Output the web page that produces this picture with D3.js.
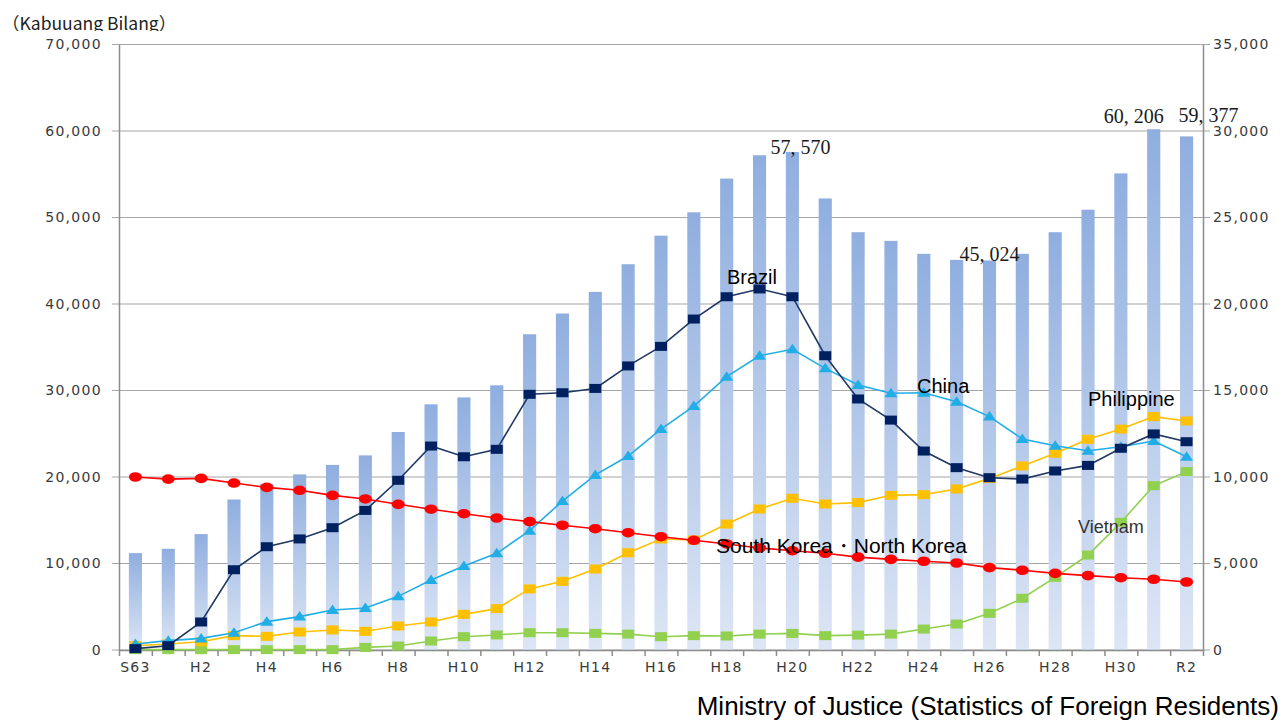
<!DOCTYPE html>
<html>
<head>
<meta charset="utf-8">
<script src="https://cdn.jsdelivr.net/npm/d3@7"></script>
<style>
	body { margin: 0; background: #ffffff; }
	svg { display: block; }
</style>
</head>
<body>
<div id="chart"></div>
<script>
/**
 * Foreign residents chart: total (bars, left axis) and nationalities (lines, right axis).
 */

// Categories (Japanese era years)
const years = [
	"S63", "H1", "H2", "H3", "H4", "H5", "H6", "H7", "H8", "H9", "H10",
	"H11", "H12", "H13", "H14", "H15", "H16", "H17", "H18", "H19", "H20",
	"H21", "H22", "H23", "H24", "H25", "H26", "H27", "H28", "H29", "H30",
	"H31", "R2"
];
const yearLabels = ["S63", "H2", "H4", "H6", "H8", "H10", "H12", "H14", "H16", "H18",
	"H20", "H22", "H24", "H26", "H28", "H30", "R2"];

// Total (left axis)
const totals = [
	11200, 11700, 13400, 17400, 19200, 20300, 21400, 22500, 25200, 28400, 29200,
	30600, 36500, 38900, 41400, 44600, 47900, 50600, 54500, 57200, 57570,
	52200, 48300, 47300, 45800, 45100, 45024, 45800, 48300, 50900, 55100,
	60206, 59377
];

// Nationalities (right axis)
const brazil = [
	80, 250, 1620, 4640, 5970, 6420, 7070, 8070, 9810, 11790, 11170,
	11600, 14780, 14870, 15120, 16420, 17550, 19130, 20420, 20870, 20420,
	17010, 14510, 13290, 11500, 10540, 9960, 9880, 10350, 10670, 11660,
	12490, 12040
];
const china = [
	350, 540, 670, 1000, 1640, 1930, 2310, 2430, 3100, 4050, 4860,
	5590, 6900, 8610, 10120, 11210, 12770, 14100, 15800, 17010, 17380,
	16280, 15320, 14840, 14870, 14350, 13490, 12200, 11810, 11520, 11750,
	12080, 11170
];
const philippine = [
	250, 350, 480, 830, 790, 1040, 1160, 1080, 1390, 1620, 2060,
	2390, 3530, 3970, 4680, 5620, 6420, 6360, 7280, 8150, 8770,
	8440, 8520, 8940, 8980, 9310, 9920, 10640, 11370, 12180, 12770,
	13490, 13240
];
const vietnam = [
	20, 20, 20, 20, 20, 20, 20, 150, 230, 520, 770,
	870, 1000, 1000, 960, 920, 770, 830, 810, 920, 960,
	830, 860, 920, 1210, 1500, 2120, 2990, 4200, 5490, 7380,
	9500, 10310
];
const korea = [
	10000, 9880, 9920, 9650, 9400, 9230, 8940, 8730, 8420, 8140, 7880,
	7630, 7420, 7210, 7010, 6780, 6550, 6340, 6130, 5900, 5740,
	5590, 5370, 5240, 5130, 5030, 4760, 4610, 4430, 4300, 4180,
	4090, 3930
];

const leftTicks = [0, 10000, 20000, 30000, 40000, 50000, 60000, 70000];
const rightTicks = [0, 5000, 10000, 15000, 20000, 25000, 30000, 35000];

(function (d3) {
	"use strict";

	const width = 1283, height = 722;
	const plot = { left: 119, right: 1203, top: 44.5, bottom: 650 };

	const svg = d3.select("#chart").append("svg")
		.attr("width", width)
		.attr("height", height)
		.style("font-family", "'Liberation Sans', Arial, sans-serif");

	// Scales
	const xScale = d3.scaleBand()
		.domain(years)
		.range([plot.left, plot.right])
		.paddingInner(0.6)
		.paddingOuter(0.3);
	const cx = d => xScale(d) + xScale.bandwidth() / 2;

	const yLeft = d3.scaleLinear().domain([0, 70000]).range([plot.bottom, plot.top]);
	const yRight = d3.scaleLinear().domain([0, 35000]).range([plot.bottom, plot.top]);

	// Bar gradient
	const defs = svg.append("defs");
	const grad = defs.append("linearGradient")
		.attr("id", "barGrad")
		.attr("x1", 0).attr("y1", 0).attr("x2", 0).attr("y2", 1);
	grad.append("stop").attr("offset", "0%").attr("stop-color", "#8faedf");
	grad.append("stop").attr("offset", "100%").attr("stop-color", "#dde6f5");

	defs.append("clipPath").attr("id", "titleClip")
		.append("rect").attr("x", 0).attr("y", 0).attr("width", 300).attr("height", 31);

	// Gridlines (behind bars)
	svg.append("g")
		.attr("class", "grid")
		.selectAll("line")
		.data(leftTicks)
		.enter()
		.append("line")
		.attr("x1", plot.left - 7)
		.attr("x2", plot.right + 7)
		.attr("y1", d => yLeft(d))
		.attr("y2", d => yLeft(d))
		.attr("stroke", "#a6a6a6")
		.attr("stroke-width", 1.2);

	// Bars
	svg.append("g")
		.attr("class", "bars")
		.selectAll("rect")
		.data(totals)
		.enter()
		.append("rect")
		.attr("x", (d, i) => xScale(years[i]))
		.attr("width", xScale.bandwidth())
		.attr("y", d => yLeft(d))
		.attr("height", d => plot.bottom - yLeft(d))
		.attr("fill", "url(#barGrad)");

	// Axes
	const tickFont = g => g.selectAll("text")
		.attr("fill", "#3a3a3a")
		.style("font-family", "'DejaVu Sans', Verdana, sans-serif")
		.style("font-size", "14px")
		.style("letter-spacing", "1.3px");

	const leftAxis = d3.axisLeft(yLeft)
		.tickValues(leftTicks)
		.tickFormat(d3.format(","))
		.tickSize(0)
		.tickPadding(17);
	svg.append("g")
		.attr("transform", "translate(" + plot.left + ",0)")
		.call(leftAxis)
		.call(g => g.select(".domain").attr("stroke", "#8c8c8c").attr("stroke-width", 1.5))
		.call(tickFont);

	const rightAxis = d3.axisRight(yRight)
		.tickValues(rightTicks)
		.tickFormat(d3.format(","))
		.tickSize(0)
		.tickPadding(10);
	svg.append("g")
		.attr("transform", "translate(" + plot.right + ",0)")
		.call(rightAxis)
		.call(g => g.select(".domain").attr("stroke", "#8c8c8c").attr("stroke-width", 1.5))
		.call(tickFont);

	// Bottom axis: ticks at band boundaries, labels every other year
	const boundary = d3.scaleLinear().domain([0, years.length]).range([plot.left, plot.right]);
	svg.append("g")
		.attr("transform", "translate(0," + plot.bottom + ")")
		.call(d3.axisBottom(boundary).tickValues(d3.range(years.length + 1)).tickFormat("").tickSize(6).tickSizeOuter(0))
		.call(g => g.selectAll("line, path").attr("stroke", "#8c8c8c").attr("stroke-width", 1.5));

	svg.append("g")
		.attr("transform", "translate(0," + plot.bottom + ")")
		.call(d3.axisBottom(xScale).tickValues(yearLabels).tickSize(0).tickPadding(12))
		.call(g => g.select(".domain").remove())
		.call(tickFont);

	// Lines
	const series = [
		{ name: "vietnam", values: vietnam, color: "#92d050", marker: "square" },
		{ name: "philippine", values: philippine, color: "#ffc000", marker: "square" },
		{ name: "china", values: china, color: "#21aee6", marker: "triangle" },
		{ name: "brazil", values: brazil, color: "#002060", line: "#1f3864", marker: "square" },
		{ name: "korea", values: korea, color: "#ff0000", marker: "circle" }
	];

	const line = d3.line()
		.x((d, i) => cx(years[i]))
		.y(d => yRight(d));

	series.forEach(s => {
		const g = svg.append("g").attr("class", "series " + s.name);
		g.append("path")
			.datum(s.values)
			.attr("d", line)
			.attr("fill", "none")
			.attr("stroke", s.line || s.color)
			.attr("stroke-width", 1.6);

		const pts = g.selectAll(".pt")
			.data(s.values)
			.enter();
		if (s.marker === "square") {
			pts.append("rect")
				.attr("x", (d, i) => cx(years[i]) - 6)
				.attr("y", d => yRight(d) - 4.5)
				.attr("width", 12)
				.attr("height", 9)
				.attr("fill", s.color);
		} else if (s.marker === "circle") {
			pts.append("ellipse")
				.attr("cx", (d, i) => cx(years[i]))
				.attr("cy", d => yRight(d))
				.attr("rx", 6.5)
				.attr("ry", 4.8)
				.attr("fill", s.color);
		} else {
			pts.append("path")
				.attr("d", (d, i) => {
					const x = cx(years[i]), y = yRight(d);
					return "M" + (x - 6.5) + "," + (y + 4) + "L" + (x + 6.5) + "," + (y + 4) + "L" + x + "," + (y - 5.5) + "Z";
				})
				.attr("fill", s.color);
		}
	});

	// Series labels
	const seriesLabels = [
		{ text: "Brazil", x: 727, y: 284, size: 20, color: "#000" },
		{ text: "China", x: 917, y: 393, size: 20, color: "#000" },
		{ text: "Philippine", x: 1088, y: 406, size: 20, color: "#000" },
		{ text: "Vietnam", x: 1078, y: 533, size: 18, color: "#333" },
		{ text: "South Korea・North Korea", x: 716, y: 553, size: 21, color: "#000" }
	];
	svg.append("g")
		.selectAll("text")
		.data(seriesLabels)
		.enter()
		.append("text")
		.attr("x", d => d.x)
		.attr("y", d => d.y)
		.attr("fill", d => d.color)
		.style("font-size", d => d.size + "px")
		.text(d => d.text);

	// Value labels on selected bars
	const valueLabels = [
		{ index: 20, dx: 8, dy: 2 },
		{ index: 26, dx: 0, dy: 0 },
		{ index: 31, dx: -20, dy: -6 },
		{ index: 32, dx: 22, dy: -14 }
	];
	svg.append("g")
		.selectAll("text")
		.data(valueLabels)
		.enter()
		.append("text")
		.attr("x", d => cx(years[d.index]) + d.dx)
		.attr("y", d => yLeft(totals[d.index]) + d.dy)
		.attr("text-anchor", "middle")
		.attr("fill", "#1a1a1a")
		.style("font-family", "'Liberation Serif', 'DejaVu Serif', serif")
		.style("font-size", "20px")
		.text(d => d3.format(",")(totals[d.index]).replace(",", ", "));

	// Unit title
	svg.append("text")
		.attr("x", 2)
		.attr("y", 30)
		.attr("clip-path", "url(#titleClip)")
		.attr("fill", "#222")
		.style("font-family", "'Noto Sans CJK JP', 'Noto Sans', sans-serif")
		.style("font-size", "17.5px")
		.text("（Kabuuang Bilang）");

	// Source
	svg.append("text")
		.attr("x", 1279)
		.attr("y", 715)
		.attr("text-anchor", "end")
		.attr("fill", "#000")
		.style("font-size", "26px")
		.text("Ministry of Justice (Statistics of Foreign Residents)");

})(d3);
</script>
</body>
</html>
